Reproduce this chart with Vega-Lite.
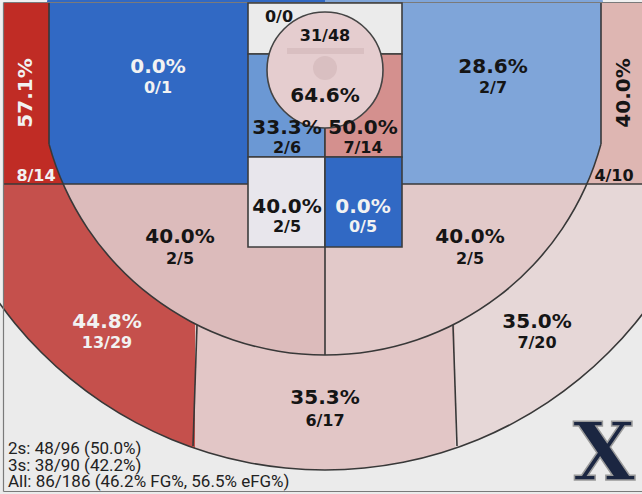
{
  "$schema": "https://vega.github.io/schema/vega-lite/v6.json",
  "width": 642,
  "height": 494,
  "padding": 0,
  "autosize": {"type": "none"},
  "background": "#f0f0f0",
  "config": {"view": {"stroke": null}},
  "datasets": {
    "zonesA": [
      {"zone": "lc3", "x": -321, "x2": 0, "y": -66, "y2": 115},
      {"zone": "rc3", "x": 0, "x2": 317, "y": -66, "y2": 115},
      {"zone": "lw3", "x": -321, "x2": -130, "y": 115, "y2": 425},
      {"zone": "t3", "x": -130, "x2": 130, "y": 115, "y2": 425},
      {"zone": "rw3", "x": 130, "x2": 317, "y": 115, "y2": 425}
    ],
    "arcs": [
      {"zone": "bg", "x": 0, "y": 0, "r": 1000, "r2": 401, "t": 0, "t2": 6.2832},
      {"zone": "rm2", "x": 0, "y": 0, "r": 286, "r2": 0, "t": 0, "t2": 3.1416},
      {"zone": "lm2", "x": 0, "y": 0, "r": 286, "r2": 0, "t": 3.1416, "t2": 6.2832},
      {"zone": "lbase", "x": 0, "y": 0, "r": 286, "r2": 0, "t": 4.299, "t2": 6.2832},
      {"zone": "rbase", "x": 0, "y": 0, "r": 286, "r2": 0, "t": 0, "t2": 1.9842}
    ],
    "zonesE": [
      {"zone": "lbase", "x": -262, "x2": 0, "y": 0, "y2": 115},
      {"zone": "rbase", "x": 0, "x2": 262, "y": 0, "y2": 115},
      {"zone": "lc3", "x": -321, "x2": -276, "y": -66, "y2": 75},
      {"zone": "rc3", "x": 276, "x2": 317, "y": -66, "y2": 75}
    ],
    "bands": [
      {"x": 0, "y": 0, "r": 286.8, "r2": 285.2, "t": 1.8365, "t2": 4.4467},
      {"x": 0, "y": 0, "r": 401.8, "r2": 400.2, "t": 0, "t2": 6.2832}
    ],
    "lines": [
      {"x": -321, "y": 115, "x2": -77, "y2": 115},
      {"x": 77, "y": 115, "x2": 317, "y2": 115},
      {"x": -276, "y": -66, "x2": -276, "y2": 75},
      {"x": 276, "y": -66, "x2": 276, "y2": 75},
      {"x": 0, "y": 178, "x2": 0, "y2": 286},
      {"x": -128, "y": 256, "x2": -132, "y2": 377},
      {"x": 128, "y": 256, "x2": 132, "y2": 377}
    ],
    "frame": [
      {"x": -321.5, "y": -66.5, "x2": -321.5, "y2": 422.5},
      {"x": -321.5, "y": -66.5, "x2": 317, "y2": -66.5},
      {"x": -321.5, "y": 422.5, "x2": 317, "y2": 422.5}
    ],
    "paint": [
      {"zone": "ptop", "x": -77, "x2": 77, "y": -66, "y2": -15},
      {"zone": "pl", "x": -77, "x2": 0, "y": -15, "y2": 88},
      {"zone": "pr", "x": 0, "x2": 77, "y": -15, "y2": 88},
      {"zone": "pll", "x": -77, "x2": 0, "y": 88, "y2": 178},
      {"zone": "plr", "x": 0, "x2": 77, "y": 88, "y2": 178}
    ],
    "ra": [{"zone": "ra", "x": 0, "y": 1, "r": 58, "r2": 0, "t": 0, "t2": 6.2832}],
    "backboard": [{"x": -38, "x2": 39, "y": -18, "y2": -18}],
    "rim": [{"x": 0, "y": -1, "r": 12, "r2": 0, "t": 0, "t2": 6.2832}],
    "labels": [
      {"zone": "lc3", "pct": "57.1%", "cnt": "8/14", "x": -299, "y": 24, "cx": -289, "cy": 107},
      {"zone": "rc3", "pct": "40.0%", "cnt": "4/10", "x": 299, "y": 24, "cx": 289, "cy": 107},
      {"zone": "lbase", "pct": "0.0%", "cnt": "0/1", "x": -167, "y": -2, "cx": -167, "cy": 19},
      {"zone": "rbase", "pct": "28.6%", "cnt": "2/7", "x": 168, "y": -2, "cx": 168, "cy": 19},
      {"zone": "ptop", "pct": null, "cnt": "0/0", "x": null, "y": null, "cx": -46, "cy": -52},
      {"zone": "ra", "pct": "64.6%", "cnt": "31/48", "x": 0, "y": 27, "cx": 0, "cy": -33},
      {"zone": "pl", "pct": "33.3%", "cnt": "2/6", "x": -38, "y": 59, "cx": -38, "cy": 79},
      {"zone": "pr", "pct": "50.0%", "cnt": "7/14", "x": 38, "y": 59, "cx": 38, "cy": 79},
      {"zone": "pll", "pct": "40.0%", "cnt": "2/5", "x": -38, "y": 138, "cx": -38, "cy": 158},
      {"zone": "plr", "pct": "0.0%", "cnt": "0/5", "x": 38, "y": 138, "cx": 38, "cy": 158},
      {"zone": "lm2", "pct": "40.0%", "cnt": "2/5", "x": -145, "y": 168, "cx": -145, "cy": 190},
      {"zone": "rm2", "pct": "40.0%", "cnt": "2/5", "x": 145, "y": 168, "cx": 145, "cy": 190},
      {"zone": "lw3", "pct": "44.8%", "cnt": "13/29", "x": -218, "y": 253, "cx": -218, "cy": 274},
      {"zone": "rw3", "pct": "35.0%", "cnt": "7/20", "x": 212, "y": 253, "cx": 212, "cy": 274},
      {"zone": "t3", "pct": "35.3%", "cnt": "6/17", "x": 0, "y": 329, "cx": 0, "cy": 352}
    ],
    "stats": [
      {"line": "2s: 48/96 (50.0%)", "x": -317, "y": 380},
      {"line": "3s: 38/90 (42.2%)", "x": -317, "y": 396.5},
      {"line": "All: 86/186 (46.2% FG%, 56.5% eFG%)", "x": -317, "y": 413}
    ],
    "logo": [{"txt": "X", "x": 279, "y": 411}]
  },
  "encoding": {
    "x": {"field": "x", "type": "quantitative", "scale": {"domain": [-325, 317], "nice": false, "zero": false}, "axis": null},
    "y": {"field": "y", "type": "quantitative", "scale": {"domain": [-69, 425], "reverse": true, "nice": false, "zero": false}, "axis": null}
  },
  "layer": [
    {
      "data": {"name": "zonesA"},
      "mark": {"type": "rect", "clip": true},
      "encoding": {
        "x2": {"field": "x2"},
        "y2": {"field": "y2"},
        "color": {"field": "zone", "type": "nominal", "legend": null,
          "scale": {"domain": ["lc3","rc3","lbase","rbase","ptop","pl","pr","pll","plr","ra","lm2","rm2","lw3","t3","rw3","bg"],
                    "range": ["#c02c25","#deb6b2","#3169c4","#7fa5d9","#ebebeb","#6b98d4","#d4908e","#e8e6ec","#3169c4","#e5cdcf","#dcbbbb","#e2c9c9","#c5504c","#e2c6c6","#e6d7d7","#ebebeb"]}}
      }
    },
    {
      "data": {"name": "arcs"},
      "mark": {"type": "arc", "clip": true},
      "encoding": {
        "theta": {"field": "t", "type": "quantitative", "stack": null, "scale": {"type": "linear", "domain": [0, 6.283185307], "range": [0, 6.283185307]}},
        "theta2": {"field": "t2"},
        "radius": {"field": "r", "type": "quantitative", "scale": {"type": "linear", "domain": [0, 642], "range": [0, 642], "zero": false}},
        "radius2": {"field": "r2"},
        "color": {"field": "zone", "type": "nominal", "legend": null}
      }
    },
    {
      "data": {"name": "zonesE"},
      "mark": {"type": "rect", "clip": true},
      "encoding": {
        "x2": {"field": "x2"},
        "y2": {"field": "y2"},
        "color": {"field": "zone", "type": "nominal", "legend": null}
      }
    },
    {
      "data": {"name": "bands"},
      "mark": {"type": "arc", "clip": true, "fill": "#383838"},
      "encoding": {
        "theta": {"field": "t", "type": "quantitative", "stack": null},
        "theta2": {"field": "t2"},
        "radius": {"field": "r", "type": "quantitative"},
        "radius2": {"field": "r2"}
      }
    },
    {
      "data": {"name": "lines"},
      "mark": {"type": "rule", "color": "#383838", "strokeWidth": 1.6},
      "encoding": {"x2": {"field": "x2"}, "y2": {"field": "y2"}}
    },
    {
      "data": {"name": "frame"},
      "mark": {"type": "rule", "color": "#7a7a7a", "strokeWidth": 1.2},
      "encoding": {"x2": {"field": "x2"}, "y2": {"field": "y2"}}
    },
    {
      "data": {"name": "paint"},
      "mark": {"type": "rect", "stroke": "#3c3c3c", "strokeWidth": 1.6},
      "encoding": {
        "x2": {"field": "x2"},
        "y2": {"field": "y2"},
        "color": {"field": "zone", "type": "nominal", "legend": null}
      }
    },
    {
      "data": {"name": "ra"},
      "mark": {"type": "arc", "stroke": "#444444", "strokeWidth": 1.6},
      "encoding": {
        "theta": {"field": "t", "type": "quantitative", "stack": null},
        "theta2": {"field": "t2"},
        "radius": {"field": "r", "type": "quantitative"},
        "radius2": {"field": "r2"},
        "color": {"field": "zone", "type": "nominal", "legend": null}
      }
    },
    {
      "data": {"name": "backboard"},
      "mark": {"type": "rule", "color": "#d9bfc1", "strokeWidth": 6},
      "encoding": {"x2": {"field": "x2"}, "y2": {"field": "y2"}}
    },
    {
      "data": {"name": "rim"},
      "mark": {"type": "arc", "fill": "#d9bfc1"},
      "encoding": {
        "theta": {"field": "t", "type": "quantitative", "stack": null},
        "theta2": {"field": "t2"},
        "radius": {"field": "r", "type": "quantitative"},
        "radius2": {"field": "r2"}
      }
    },
    {
      "data": {"name": "labels"},
      "transform": [{"filter": "datum.pct != null"}],
      "mark": {"type": "text", "font": "DejaVu Sans", "fontWeight": "bold", "fontSize": 20, "baseline": "middle", "align": "center"},
      "encoding": {
        "text": {"field": "pct"},
        "angle": {"condition": {"test": "datum.zone === 'lc3' || datum.zone === 'rc3'", "value": 270}, "value": 0},
        "color": {"condition": {"test": "indexof(['lc3','lbase','plr','lw3'], datum.zone) >= 0", "value": "#f2f2f2"}, "value": "#151515"}
      }
    },
    {
      "data": {"name": "labels"},
      "mark": {"type": "text", "font": "DejaVu Sans", "fontWeight": "bold", "fontSize": 16, "baseline": "middle", "align": "center"},
      "encoding": {
        "x": {"field": "cx", "type": "quantitative"},
        "y": {"field": "cy", "type": "quantitative"},
        "text": {"field": "cnt"},
        "color": {"condition": {"test": "indexof(['lc3','lbase','plr','lw3'], datum.zone) >= 0", "value": "#f2f2f2"}, "value": "#151515"}
      }
    },
    {
      "data": {"name": "stats"},
      "mark": {"type": "text", "font": "Roboto", "fontSize": 17, "baseline": "middle", "align": "left", "color": "#222222"},
      "encoding": {"text": {"field": "line"}}
    },
    {
      "data": {"name": "logo"},
      "mark": {"type": "text", "font": "DejaVu Serif", "fontWeight": "bold", "fontSize": 80, "baseline": "alphabetic", "align": "center", "fill": "#1b2641", "stroke": "#9a9a9a", "strokeWidth": 1.5},
      "encoding": {"text": {"field": "txt"}}
    }
  ]
}
